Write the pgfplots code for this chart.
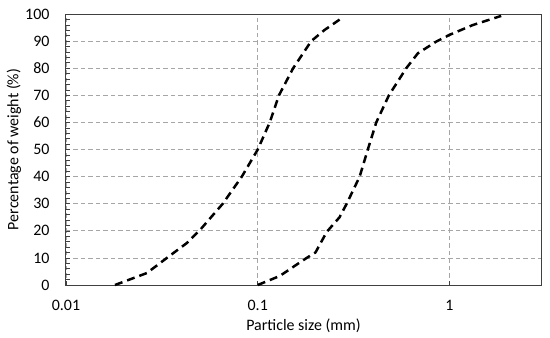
\documentclass[border=0pt]{standalone}
\usepackage{pgfplots}
\pgfplotsset{compat=1.18}
\usepackage{fontspec}
\setmainfont{Carlito}
\definecolor{gridgray}{HTML}{A6A6A6}
\definecolor{axgray}{HTML}{404040}
\begin{document}
\begin{tikzpicture}
\begin{axis}[
  scale only axis,
  width=475bp, height=271bp,
  xmode=log,
  xmin=0.01, xmax=3,
  ymin=0, ymax=100,
  ytick={0,10,...,100},
  minor y tick num=4,
  xtick={0.01,0.1,1},
  xticklabels={0.01,0.1,1},
  log basis x=10,
  /pgf/number format/assume math mode=true,
  tick label style={font=\fontsize{16}{18}\selectfont, text=black},
  xticklabel style={yshift=-12bp},
  yticklabel style={xshift=-13bp},
  label style={font=\fontsize{16}{18}\selectfont},
  xlabel={Particle size (mm)},
  ylabel={Percentage of weight (\%)},
  xlabel style={at={(axis description cs:0.5,0)}, anchor=center, yshift=-41bp},
  ylabel style={at={(axis description cs:-0.1095,0.5)}, anchor=center},
  axis line style={axgray, line width=1pt},
  tick style={axgray, line width=0.6pt},
  major tick length=4bp, minor tick length=4bp,
  tick align=inside,
  xtick pos=bottom, ytick pos=left,
  xmajorgrids, ymajorgrids,
  major grid style={gridgray, dash pattern=on 4.5bp off 3bp, line width=0.7pt},
  clip=false,
]
\addplot[black, line width=2.5pt, dash pattern=on 8bp off 5bp] coordinates {
(0.018,0) (0.0264,4.4) (0.0336,10) (0.0427,15.5) (0.05,20.3) (0.0657,30) (0.0826,40) (0.1,50) (0.1155,60) (0.129,70) (0.153,80) (0.19,90) (0.223,94.1) (0.273,98.4)
};
\addplot[black, line width=2.5pt, dash pattern=on 8bp off 5bp] coordinates {
(0.1,0) (0.13,3.3) (0.18,10) (0.2,12) (0.229,19.6) (0.267,25) (0.291,30) (0.340,40) (0.375,50) (0.415,60) (0.483,70) (0.595,80) (0.684,85.5) (0.852,89.8) (1.0,92.3) (1.32,95.9) (1.86,99.3)
};
\end{axis}
\pgfresetboundingbox
\path[use as bounding box] (current axis.south west) ++(-66bp,-53bp) rectangle ([xshift=9bp,yshift=14bp]current axis.north east);
\end{tikzpicture}
\end{document}
